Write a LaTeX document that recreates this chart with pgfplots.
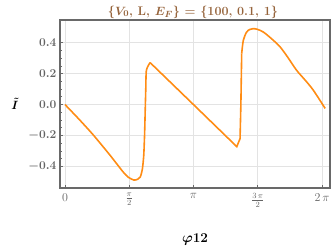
\documentclass[border=0pt]{standalone}
\usepackage{pgfplots}
\pgfplotsset{compat=1.18}
\usepackage{amsmath}
\usepackage{bm}
\definecolor{curve}{RGB}{255,140,20}
\definecolor{titlec}{RGB}{150,100,60}
\definecolor{framec}{RGB}{105,105,105}
\definecolor{tickc}{RGB}{100,100,100}
\begin{document}
\begin{tikzpicture}
\useasboundingbox (0pt,0pt) rectangle (332pt,247pt);
\begin{axis}[
  at={(60pt,59pt)}, anchor=south west,
  width=270pt, height=168pt, scale only axis,
  xmin=-0.1222, xmax=6.479, ymin=-0.539, ymax=0.546,
  xtick={0,1.5708,3.14159,4.71239,6.28319},
  xticklabels={$0$,$\frac{\pi}{2}$,$\pi$,$\frac{3\,\pi}{2}$,$2\,\pi$},
  ytick={-0.4,-0.2,0,0.2,0.4},
  yticklabels={$\bm{-0.4}$,$\bm{-0.2}$,$\bm{0.0}$,$\bm{0.2}$,$\bm{0.4}$},
  minor y tick num=3,
  tick pos=left,
  tick align=inside,
  major tick length=3pt, minor tick length=1.8pt,
  every tick/.style={framec, line width=0.6pt},
  axis line style={framec, line width=1.2pt},
  grid=major,
  major grid style={gray!22, line width=0.6pt},
  ticklabel style={tickc, font=\fontsize{11.5}{13}\selectfont},
  xticklabel style={yshift=-2pt},
  clip=true,
]
\addplot[curve, line width=1.6pt, smooth, tension=0.4] coordinates {
(0,0) (0.35,-0.097) (0.69,-0.196) (1.10,-0.327) (1.42,-0.435) (1.55,-0.470)
(1.687,-0.488) (1.78,-0.482) (1.84,-0.468) (1.89,-0.420) (1.925,-0.33)
(1.945,-0.20) (1.96,-0.05) (1.975,0.10) (1.99,0.221) (2.08,0.271)
};
\addplot[curve, line width=1.6pt] coordinates {
(2.08,0.271) (3.14,0.0) (4.20,-0.272) (4.28,-0.22) (4.30,0.0) (4.32,0.329)
};
\addplot[curve, line width=1.6pt, smooth, tension=0.5] coordinates {
(4.32,0.329) (4.36,0.415) (4.44,0.468) (4.52,0.485) (4.60,0.490) (4.70,0.486)
(4.85,0.468) (5.05,0.425) (5.26,0.372) (5.46,0.300) (5.66,0.222) (5.87,0.158)
(6.07,0.093) (6.36,-0.025)
};
\end{axis}
\node[font=\fontsize{12.5}{14}\selectfont, text=titlec] at (193pt,235pt) {\bfseries\{$\bm{V_0}$, L, $\bm{E_F}$\} = \{100, 0.1, 1\}};
\node[font=\fontsize{13}{14}\selectfont] at (15pt,143pt) {$\bm{\tilde{I}}$};
\node[font=\fontsize{13.5}{15}\selectfont] at (195pt,8pt) {$\bm{\varphi}$\textbf{12}};
\end{tikzpicture}
\end{document}
